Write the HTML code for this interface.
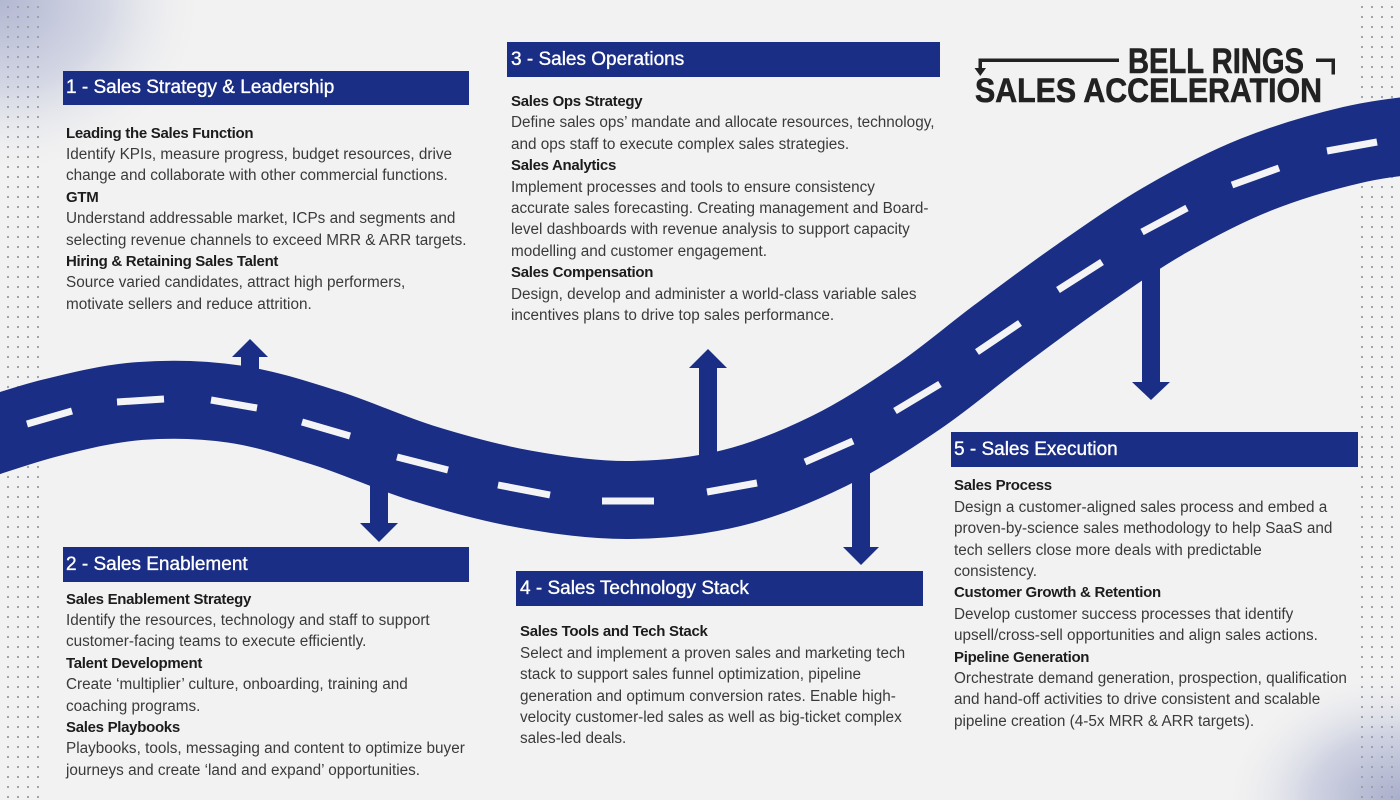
<!DOCTYPE html>
<html>
<head>
<meta charset="utf-8">
<style>
  html,body{margin:0;padding:0;}
  body{width:1400px;height:800px;position:relative;overflow:hidden;background:#f2f2f2;font-family:"Liberation Sans",Arial,sans-serif;}
  #bg{position:absolute;left:0;top:0;}
  .bar{position:absolute;background:#1a2e85;color:#fff;font-size:19px;white-space:nowrap;-webkit-text-stroke:0.35px #fff;box-sizing:border-box;}
  .blk{position:absolute;font-size:15.3px;line-height:21.4px;color:#3a3a3a;white-space:nowrap;}
  .blk b{display:block;color:#1c1c1c;font-weight:bold;font-size:15px;letter-spacing:-0.3px;}
  .blk span{display:block;}
</style>
</head>
<body>
<svg id="bg" width="1400" height="800" viewBox="0 0 1400 800" xmlns="http://www.w3.org/2000/svg">
  <defs>
    <radialGradient id="gtl" cx="0" cy="0" r="1" gradientUnits="userSpaceOnUse" gradientTransform="translate(0 0) scale(210 180)">
      <stop offset="0" stop-color="#b3b8d2"/>
      <stop offset="0.5" stop-color="#d4d7e4"/>
      <stop offset="1" stop-color="#f2f2f2" stop-opacity="0"/>
    </radialGradient>
    <radialGradient id="gbr" cx="0" cy="0" r="1" gradientUnits="userSpaceOnUse" gradientTransform="translate(1400 800) scale(180 135)">
      <stop offset="0" stop-color="#a9aecb"/>
      <stop offset="0.5" stop-color="#d0d3e2"/>
      <stop offset="1" stop-color="#f2f2f2" stop-opacity="0"/>
    </radialGradient>
    <pattern id="dl" x="3" y="2" width="10" height="10" patternUnits="userSpaceOnUse">
      <circle cx="5" cy="5" r="1.1" fill="#9a9ca6"/>
    </pattern>
    <pattern id="dr" x="1357" y="2" width="10" height="10" patternUnits="userSpaceOnUse">
      <circle cx="5" cy="5" r="1.1" fill="#9a9ca6"/>
    </pattern>
  </defs>
  <rect width="1400" height="800" fill="#f2f2f2"/>
  <rect width="1400" height="800" fill="url(#gtl)"/>
  <rect width="1400" height="800" fill="url(#gbr)"/>
  <rect x="3" y="2" width="40" height="798" fill="url(#dl)"/>
  <rect x="1357" y="2" width="40" height="798" fill="url(#dr)"/>

  <!-- road -->
  <path d="M -40 446 C -10 436.8, 20 425.5, 50 418 C 80 410.5, 109.3 403.3, 140 401 C 170.7 398.7, 203 399.5, 234 404 C 265 408.5, 294.7 418.2, 326 428 C 357.3 437.8, 389 452.8, 422 463 C 455 473.2, 489.7 482.8, 524 489 C 558.3 495.2, 593.3 500.2, 628 500 C 662.7 499.8, 698.5 496.2, 732 488 C 765.5 479.8, 798 466.2, 829 451 C 860 435.8, 889.8 416.2, 918 397 C 946.2 377.8, 971 356.2, 998 336 C 1025 315.8, 1052.2 295.3, 1080 276 C 1107.8 256.7, 1135.8 236.8, 1165 220 C 1194.2 203.2, 1223.8 187.5, 1255 175 C 1286.2 162.5, 1321.2 152.2, 1352 145 C 1382.8 137.8, 1410.3 135.8, 1440 132"
        fill="none" stroke="#1a2e85" stroke-width="78"/>

  <!-- arrows -->
  <g fill="#1a2e85">
    <rect x="241" y="355" width="18" height="30"/>
    <polygon points="232,357 250,339 268,357"/>
    <rect x="370" y="460" width="18" height="64"/>
    <polygon points="360,523 398,523 379,542"/>
    <rect x="699" y="366" width="18" height="110"/>
    <polygon points="689,368 708,349 727,368"/>
    <rect x="852" y="460" width="18" height="88"/>
    <polygon points="843,547 879,547 861,565"/>
    <rect x="1142" y="250" width="18" height="133"/>
    <polygon points="1132,382 1170,382 1151,400"/>
  </g>

  <!-- dashes -->
  <g stroke="#f4f4f6" stroke-width="7" fill="none">
    <line x1="27" y1="424" x2="72" y2="411"/>
    <line x1="117" y1="402" x2="164" y2="399"/>
    <line x1="211" y1="400" x2="257" y2="408"/>
    <line x1="302" y1="422" x2="350" y2="436"/>
    <line x1="397" y1="457" x2="448" y2="470"/>
    <line x1="498" y1="485" x2="550" y2="495"/>
    <line x1="602" y1="501" x2="654" y2="501"/>
    <line x1="707" y1="492" x2="757" y2="483"/>
    <line x1="805" y1="462" x2="853" y2="441"/>
    <line x1="895" y1="411" x2="940" y2="384"/>
    <line x1="977" y1="352" x2="1020" y2="323"/>
    <line x1="1058" y1="290" x2="1102" y2="262"/>
    <line x1="1142" y1="232" x2="1187" y2="208"/>
    <line x1="1232" y1="185" x2="1279" y2="168"/>
    <line x1="1327" y1="151" x2="1377" y2="142"/>
  </g>

  <!-- logo -->
  <g fill="#222">
    <rect x="979" y="58.5" width="140" height="3.5"/>
    <rect x="978.5" y="58.5" width="3.5" height="12"/>
    <polygon points="974.5,68 986,68 980.25,76"/>
    <rect x="1316" y="58.5" width="19" height="3.5"/>
    <rect x="1331.5" y="58.5" width="3.5" height="16"/>
    <text x="1128" y="73" font-family="Liberation Sans, Arial, sans-serif" font-weight="bold" font-size="35" stroke="#222" stroke-width="0.6" textLength="176" lengthAdjust="spacingAndGlyphs">BELL RINGS</text>
    <text x="975" y="102" font-family="Liberation Sans, Arial, sans-serif" font-weight="bold" font-size="34" stroke="#222" stroke-width="0.6" textLength="347" lengthAdjust="spacingAndGlyphs">SALES ACCELERATION</text>
  </g>
</svg>

<!-- header bars -->
<div class="bar" style="left:63px;top:71px;width:406px;height:34px;line-height:34px;padding-left:3px;">1 - Sales Strategy &amp; Leadership</div>
<div class="bar" style="left:507px;top:42px;width:433px;height:35px;line-height:35px;padding-left:4px;">3 - Sales Operations</div>
<div class="bar" style="left:63px;top:547px;width:406px;height:35px;line-height:35px;padding-left:3px;">2 - Sales Enablement</div>
<div class="bar" style="left:516px;top:571px;width:407px;height:35px;line-height:35px;padding-left:4px;">4 - Sales Technology Stack</div>
<div class="bar" style="left:951px;top:432px;width:407px;height:35px;line-height:35px;padding-left:3px;">5 - Sales Execution</div>

<!-- text blocks -->
<div class="blk" style="left:66px;top:122.5px;">
  <b>Leading the Sales Function</b>
  <span>Identify KPIs, measure progress, budget resources, drive</span>
  <span>change and collaborate with other commercial functions.</span>
  <b>GTM</b>
  <span>Understand addressable market, ICPs and segments and</span>
  <span>selecting revenue channels to exceed MRR &amp; ARR targets.</span>
  <b>Hiring &amp; Retaining Sales Talent</b>
  <span>Source varied candidates, attract high performers,</span>
  <span>motivate sellers and reduce attrition.</span>
</div>

<div class="blk" style="left:511px;top:91px;">
  <b>Sales Ops Strategy</b>
  <span>Define sales ops’ mandate and allocate resources, technology,</span>
  <span>and ops staff to execute complex sales strategies.</span>
  <b>Sales Analytics</b>
  <span>Implement processes and tools to ensure consistency</span>
  <span>accurate sales forecasting. Creating management and Board-</span>
  <span>level dashboards with revenue analysis to support capacity</span>
  <span>modelling and customer engagement.</span>
  <b>Sales Compensation</b>
  <span>Design, develop and administer a world-class variable sales</span>
  <span>incentives plans to drive top sales performance.</span>
</div>

<div class="blk" style="left:66px;top:588.5px;">
  <b>Sales Enablement Strategy</b>
  <span>Identify the resources, technology and staff to support</span>
  <span>customer-facing teams to execute efficiently.</span>
  <b>Talent Development</b>
  <span>Create ‘multiplier’ culture, onboarding, training and</span>
  <span>coaching programs.</span>
  <b>Sales Playbooks</b>
  <span>Playbooks, tools, messaging and content to optimize buyer</span>
  <span>journeys and create ‘land and expand’ opportunities.</span>
</div>

<div class="blk" style="left:520px;top:621.3px;">
  <b>Sales Tools and Tech Stack</b>
  <span>Select and implement a proven sales and marketing tech</span>
  <span>stack to support sales funnel optimization, pipeline</span>
  <span>generation and optimum conversion rates. Enable high-</span>
  <span>velocity customer-led sales as well as big-ticket complex</span>
  <span>sales-led deals.</span>
</div>

<div class="blk" style="left:954px;top:475.3px;">
  <b>Sales Process</b>
  <span>Design a customer-aligned sales process and embed a</span>
  <span>proven-by-science sales methodology to help SaaS and</span>
  <span>tech sellers close more deals with predictable</span>
  <span>consistency.</span>
  <b>Customer Growth &amp; Retention</b>
  <span>Develop customer success processes that identify</span>
  <span>upsell/cross-sell opportunities and align sales actions.</span>
  <b>Pipeline Generation</b>
  <span>Orchestrate demand generation, prospection, qualification</span>
  <span>and hand-off activities to drive consistent and scalable</span>
  <span>pipeline creation (4-5x MRR &amp; ARR targets).</span>
</div>
</body>
</html>
